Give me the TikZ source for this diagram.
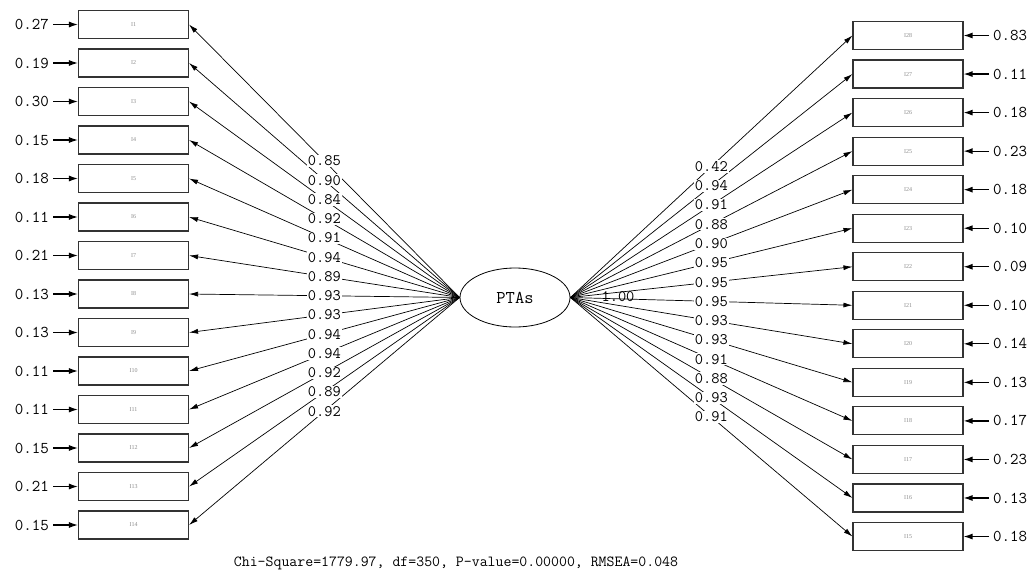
\documentclass[tikz,border=0pt]{standalone}
\usepackage{fontspec}
\newfontfamily\smallserif{Liberation Serif}
\usetikzlibrary{shapes.geometric,arrows.meta}
\begin{document}
\begin{tikzpicture}[x=1pt,y=-1pt,
 box/.style={draw=black!80,line width=1.1pt,minimum width=110pt,minimum height=28pt,inner sep=0pt,font=\smallserif\fontsize{6}{7}\selectfont,text=black!45},
 latent/.style={draw,ellipse,line width=0.8pt,minimum width=110pt,minimum height=59pt,inner sep=0pt,font=\ttfamily\fontsize{18}{20}\selectfont},
 lab/.style={fill=white,inner sep=1pt,font=\ttfamily\fontsize{16}{18}\selectfont},
 errlab/.style={inner sep=0pt,font=\ttfamily\fontsize{16.5}{18}\selectfont},
 load/.style={line width=0.7pt,-{Latex[length=9pt,width=5pt]}},
 errarr/.style={line width=1.2pt,shorten <=4pt,-{Latex[length=9pt,width=6pt]}},
]
\useasboundingbox[fill=white] (0,0) rectangle (1033,581);
\node[latent] (F) at (515,297.5) {PTAs};
% left side
\foreach \i/\e in {1/0.27,2/0.19,3/0.30,4/0.15,5/0.18,6/0.11,7/0.21,8/0.13,9/0.13,10/0.11,11/0.11,12/0.15,13/0.21,14/0.15}{
  \pgfmathsetmacro\yy{24.5+38.5*(\i-1)}
  \node[box] (L\i) at (133.5,\yy) {I\i};
  \node[errlab,anchor=east] (eL\i) at (49,\yy) {\e};
  \draw[errarr] (eL\i.east) -- (L\i.west);
  \draw[load] (F.west) -- (L\i.east);
}
% right side
\foreach \j/\e in {1/0.83,2/0.11,3/0.18,4/0.23,5/0.18,6/0.10,7/0.09,8/0.10,9/0.14,10/0.13,11/0.17,12/0.23,13/0.13,14/0.18}{
  \pgfmathsetmacro\yy{35.5+38.54*(\j-1)}
  \pgfmathtruncatemacro\nm{29-\j}
  \node[box] (R\j) at (908,\yy) {I\nm};
  \node[errlab,anchor=west] (eR\j) at (993,\yy) {\e};
  \draw[errarr] (eR\j.west) -- (R\j.east);
  \draw[load] (F.east) -- (R\j.west);
}
% loading labels
\foreach \i/\l in {1/0.85,2/0.90,3/0.84,4/0.92,5/0.91,6/0.94,7/0.89,8/0.93,9/0.93,10/0.94,11/0.94,12/0.92,13/0.89,14/0.92}{
  \path (F.west) -- node[lab] (lL\i) {\l} (L\i.east);
}
\foreach \j/\l in {1/0.42,2/0.94,3/0.91,4/0.88,5/0.90,6/0.95,7/0.95,8/0.95,9/0.93,10/0.93,11/0.91,12/0.88,13/0.93,14/0.91}{
  \path (F.east) -- node[lab] (lR\j) {\l} (R\j.west);
}
\node[font=\ttfamily\fontsize{16}{18}\selectfont,inner sep=0pt] (var) at (618,297) {1.00};
\node[font=\ttfamily\fontsize{15.4}{17}\selectfont,inner sep=0pt] (fit) at (456,563) {Chi-Square=1779.97, df=350, P-value=0.00000, RMSEA=0.048};
\end{tikzpicture}
\end{document}
